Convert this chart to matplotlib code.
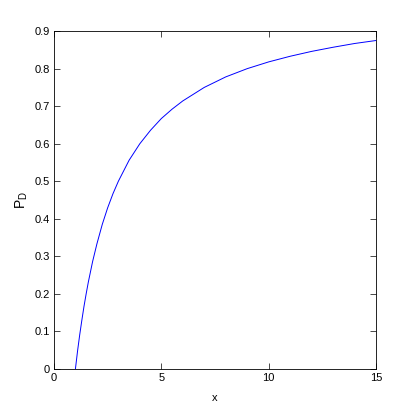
import matplotlib
matplotlib.use("Agg")
import matplotlib.pyplot as plt

x_vals = [1, 1.1, 1.2, 1.3, 1.4, 1.5, 1.6, 1.8, 2.0, 2.25, 2.5, 2.75, 3, 3.5, 4, 4.5,
          5, 5.5, 6, 7, 8, 9, 10, 11, 12, 13, 14, 15]
pd_vals = [0, 0.048, 0.091, 0.130, 0.167, 0.200, 0.231, 0.286, 0.333, 0.385, 0.429,
           0.467, 0.500, 0.556, 0.600, 0.636, 0.667, 0.692, 0.714, 0.750, 0.778,
           0.800, 0.818, 0.833, 0.846, 0.857, 0.867, 0.875]
x_ticks = [0, 5, 10, 15]
y_ticks = [0, 0.1, 0.2, 0.3, 0.4, 0.5, 0.6, 0.7, 0.8, 0.9]
y_tick_labels = ["0", "0.1", "0.2", "0.3", "0.4", "0.5", "0.6", "0.7", "0.8", "0.9"]

plt.rcParams['font.family'] = ['Liberation Sans', 'DejaVu Sans']
fig = plt.figure(figsize=(4.15, 4.15), dpi=100)
ax = fig.add_axes([0.130, 0.111, 0.776, 0.814])
ax.plot(x_vals, pd_vals, color=(0, 0, 1), linewidth=0.7)
ax.set_xlim(0, 15)
ax.set_ylim(0, 0.9)
ax.set_xticks(x_ticks)
ax.set_yticks(y_ticks)
ax.set_yticklabels(y_tick_labels)
ax.tick_params(direction='in', top=True, right=True, labelsize=8, length=4,
               width=0.5, pad=3)
for s in ax.spines.values():
    s.set_linewidth(0.6)
ax.set_xlabel("x", fontsize=8, labelpad=7)
ax.set_ylabel(r"$\mathregular{P_D}$", fontsize=10, labelpad=3)
fig.savefig("out.png", dpi=100)
